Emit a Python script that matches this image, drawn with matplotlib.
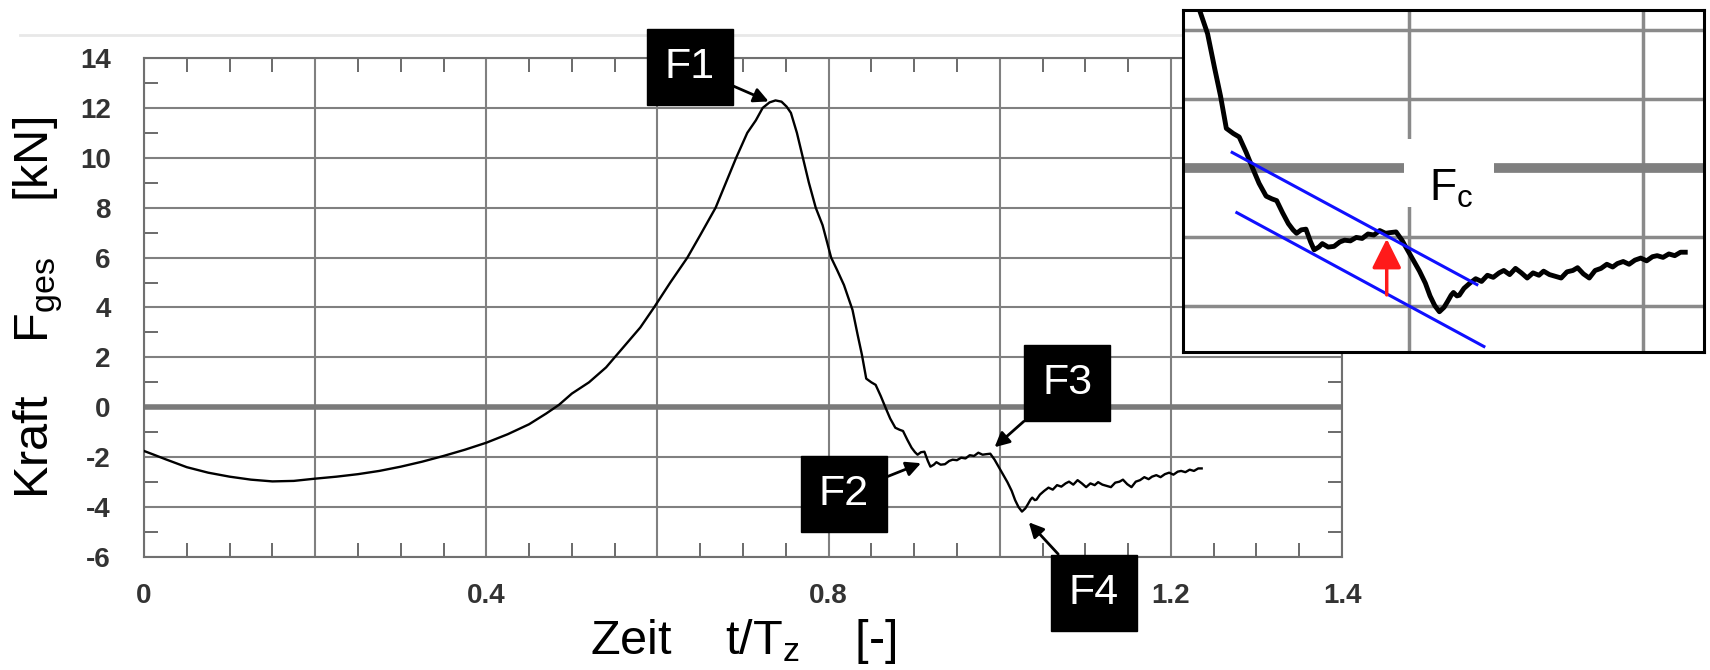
import numpy as np
import matplotlib
matplotlib.use('Agg')
import matplotlib.pyplot as plt
from matplotlib.ticker import MultipleLocator
from matplotlib.patches import Rectangle
from matplotlib.lines import Line2D

plt.rcParams['font.family'] = ['Liberation Sans', 'DejaVu Sans']
plt.rcParams['mathtext.fontset'] = 'custom'
plt.rcParams['mathtext.rm'] = 'Liberation Sans'
plt.rcParams['mathtext.it'] = 'Liberation Sans:italic'

# Messkurve (t/Tz, Kraft in kN)
zeit = [0.000, 0.010, 0.025, 0.050, 0.075, 0.100, 0.125, 0.150, 0.175, 0.200,
        0.225, 0.250, 0.275, 0.300, 0.325, 0.350, 0.375, 0.400, 0.425, 0.450,
        0.470, 0.485, 0.500, 0.520, 0.540, 0.560, 0.580, 0.596, 0.615, 0.635,
        0.650, 0.668, 0.680, 0.692, 0.705, 0.715, 0.723, 0.731, 0.738, 0.745,
        0.751, 0.756, 0.763, 0.770, 0.777, 0.785, 0.793, 0.803, 0.810, 0.818,
        0.828, 0.834, 0.839, 0.844, 0.850, 0.855, 0.861, 0.867, 0.872, 0.878,
        0.883, 0.887, 0.892, 0.897, 0.901, 0.904, 0.908, 0.912, 0.916, 0.919,
        0.923, 0.926, 0.931, 0.936, 0.941, 0.945, 0.950, 0.955, 0.960, 0.965,
        0.970, 0.975, 0.980, 0.984, 0.989, 0.994, 0.999, 1.004, 1.009, 1.014,
        1.018, 1.022, 1.026, 1.030, 1.033, 1.036, 1.038, 1.041, 1.043, 1.047,
        1.052, 1.057, 1.062, 1.067, 1.072, 1.077, 1.081, 1.086, 1.091, 1.096,
        1.101, 1.106, 1.111, 1.115, 1.120, 1.125, 1.130, 1.135, 1.140, 1.144,
        1.149, 1.154, 1.159, 1.164, 1.169, 1.174, 1.178, 1.183, 1.188, 1.193,
        1.198, 1.203, 1.208, 1.212, 1.217, 1.222, 1.227, 1.232, 1.236]
kraft = [-1.75, -1.88, -2.08, -2.40, -2.62, -2.78, -2.90, -2.97, -2.95, -2.86,
         -2.78, -2.68, -2.55, -2.38, -2.18, -1.95, -1.70, -1.42, -1.08, -0.68,
         -0.25, 0.10, 0.55, 1.00, 1.60, 2.40, 3.20, 4.00, 5.00, 6.00,
         6.90, 8.00, 9.00, 10.00, 11.00, 11.50, 12.00, 12.22, 12.30, 12.25,
         12.05, 11.80, 11.00, 10.00, 9.00, 8.00, 7.30, 6.00, 5.50, 4.90,
         3.90, 2.90, 2.10, 1.15, 1.00, 0.90, 0.45, -0.05, -0.45, -0.82,
         -0.90, -0.95, -1.30, -1.62, -1.80, -1.90, -1.80, -1.78, -2.15, -2.38,
         -2.30, -2.20, -2.30, -2.28, -2.15, -2.10, -2.12, -2.02, -2.05, -1.92,
         -1.95, -1.82, -1.90, -1.88, -1.86, -2.10, -2.40, -2.70, -3.00, -3.35,
         -3.72, -4.00, -4.18, -4.05, -3.88, -3.70, -3.62, -3.72, -3.70, -3.50,
         -3.35, -3.22, -3.30, -3.12, -3.18, -3.05, -2.98, -3.10, -2.92, -3.05,
         -3.20, -3.05, -3.12, -3.00, -3.10, -3.15, -3.20, -3.02, -2.98, -2.90,
         -3.08, -3.20, -2.98, -2.92, -2.80, -2.88, -2.78, -2.72, -2.80, -2.68,
         -2.62, -2.70, -2.58, -2.55, -2.60, -2.50, -2.55, -2.45, -2.45]

xticks = [0.0, 0.2, 0.4, 0.6, 0.8, 1.0, 1.2, 1.4]
xtick_labels = ['0', '', '0.4', '', '0.8', '', '1.2', '1.4']
yticks = [-6, -4, -2, 0, 2, 4, 6, 8, 10, 12, 14]
ytick_labels = ['-6', '-4', '-2', '0', '2', '4', '6', '8', '10', '12', '14']

punkte = ['F1', 'F2', 'F3', 'F4']
punkte_xy = [(0.730, 12.26), (0.908, -2.24), (0.994, -1.60), (1.034, -4.61)]
kasten_xy = [(0.638, 13.63), (0.818, -3.47), (1.079, 0.98), (1.110, -7.43)]

# Ausschnitt: Tangenten und Pfeil
tangente_oben_t = [0.849, 1.058]
tangente_oben_f = [0.45, -3.39]
tangente_unten_t = [0.853, 1.064]
tangente_unten_f = [-1.30, -5.19]
pfeil_t = 0.981
pfeil_f = [-3.69, -2.06]

W, H = 1710, 670
fig = plt.figure(figsize=(W / 100, H / 100), dpi=100)
fig.patch.set_facecolor('white')

# schwache Linie oben (Scan-Rand)
fig.add_artist(Line2D([20 / W, 1183 / W], [1 - 35 / H, 1 - 35 / H],
                      color='#e8e8e8', lw=2, zorder=-1))

ax = fig.add_axes([144 / W, 1 - 557 / H, 1198 / W, 499 / H])
ax.plot(zeit, kraft, color='black', lw=1.7, zorder=3)
ax.axhline(0, color='#7a7a7a', lw=4, zorder=2)
ax.set_xlim(0, 1.4)
ax.set_ylim(-6, 14)
ax.set_xticks(xticks)
ax.set_xticklabels(xtick_labels)
ax.set_yticks(yticks)
ax.set_yticklabels(ytick_labels)
ax.xaxis.set_minor_locator(MultipleLocator(0.05))
ax.yaxis.set_minor_locator(MultipleLocator(1))
ax.set_axisbelow(True)
ax.grid(True, which='major', color='#808080', lw=1.5)
ax.tick_params(which='both', direction='in', top=True, right=True, color='#6a6a6a', width=1.4)
ax.tick_params(which='major', length=0, labelsize=20, labelcolor='#333333')
ax.tick_params(which='minor', length=10)
ax.tick_params(axis='x', pad=19)
ax.tick_params(axis='y', pad=24)
for lab in ax.get_xticklabels() + ax.get_yticklabels():
    lab.set_fontweight('bold')
for s in ax.spines.values():
    s.set_color('#707070')
    s.set_linewidth(1.5)

ax.set_xlabel('Zeit    t/T$_\\mathrm{z}$    [-]', fontsize=35)
ax.xaxis.set_label_coords(0.5, -0.12)
ax.set_ylabel('Kraft    F$_\\mathrm{ges}$    [kN]', fontsize=35)
ax.yaxis.set_label_coords(-0.066, 0.5)

for name, tip, box in zip(punkte, punkte_xy, kasten_xy):
    ax.annotate(name, xy=tip, xytext=box, ha='center', va='center',
                color='white', fontsize=31, zorder=6, annotation_clip=False,
                bbox=dict(boxstyle='square,pad=0.42', fc='black', ec='black'),
                arrowprops=dict(arrowstyle='-|>', color='black', lw=2,
                                mutation_scale=22, shrinkA=0, shrinkB=0))

# Ausschnitt rechts oben
axin = fig.add_axes([1183 / W, 1 - 352 / H, (1704 - 1183) / W, (352 - 10) / H])
axin.plot(zeit, kraft, color='black', lw=3.5, zorder=3)
axin.axhline(0, color='#7f7f7f', lw=7, zorder=2)
axin.set_xlim(0.807, 1.252)
axin.set_ylim(-5.35, 4.59)
axin.set_xticks([1.0, 1.2])
axin.set_yticks([-4, -2, 2, 4])
axin.set_axisbelow(True)
axin.grid(True, color='#8a8a8a', lw=2.5)
axin.tick_params(length=0, labelbottom=False, labelleft=False)
for s in axin.spines.values():
    s.set_color('black')
    s.set_linewidth(2.2)
axin.add_patch(Rectangle((0.9957, -1.13), 0.0769, 1.97, fc='white', ec='none', zorder=2.5))
axin.text(1.036, -0.95, 'F$_\\mathrm{c}$', fontsize=32, ha='center', va='baseline', zorder=4)
axin.plot(tangente_oben_t, tangente_oben_f, color='#1010ff', lw=2.2, zorder=4)
axin.plot(tangente_unten_t, tangente_unten_f, color='#1010ff', lw=2.2, zorder=4)
axin.annotate('', xy=(pfeil_t, pfeil_f[1]), xytext=(pfeil_t, pfeil_f[0]),
              arrowprops=dict(arrowstyle='-|>,head_length=0.9,head_width=0.45',
                              color='#ff1a1a', lw=2.5, mutation_scale=20,
                              shrinkA=0, shrinkB=0), zorder=5)

fig.savefig('out.png', dpi=100)
